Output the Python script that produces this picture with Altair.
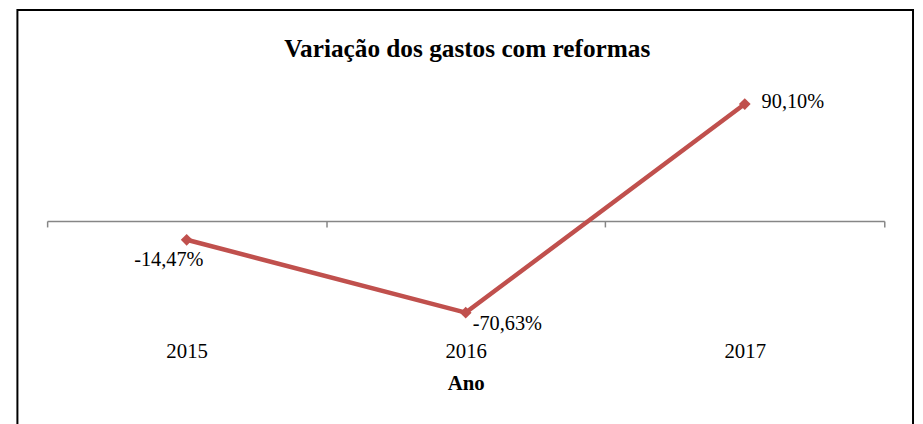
import altair as alt
import pandas as pd

anos = ["2015", "2016", "2017"]
variacao = [-14.47, -70.63, 90.10]
rotulos = ["-14,47%", "-70,63%", "90,10%"]
titulo = "Variação dos gastos com reformas"

df = pd.DataFrame({"ano": anos, "variacao": variacao, "rotulo": rotulos})

COR = "#C0504D"
FONTE = "Liberation Serif"

x_enc = alt.X(
    "ano:O",
    sort=anos,
    scale=alt.Scale(paddingInner=0, paddingOuter=0),
    axis=alt.Axis(
        title="Ano",
        labelAngle=0,
        tickBand="extent",
        domainColor="#868686",
        tickColor="#868686",
        domainWidth=1.5,
        tickWidth=1.5,
        tickSize=6,
        offset=-131,
        labelPadding=115,
        labelFont=FONTE,
        labelFontSize=21,
        labelColor="#000000",
        titleFont=FONTE,
        titleFontSize=21,
        titleFontWeight="bold",
        titleColor="#000000",
        titlePadding=11,
        grid=False,
    ),
)
y_enc = alt.Y("variacao:Q", scale=alt.Scale(domain=[-100, 100], nice=False, zero=False), axis=None)

base = alt.Chart(df)

linha = base.mark_line(color=COR, strokeWidth=4.5).encode(x=x_enc, y=y_enc)
pontos = base.mark_point(shape="diamond", filled=True, size=140, color=COR, opacity=1).encode(x=x_enc, y=y_enc)

txt_style = dict(font=FONTE, fontSize=20.5, color="#000000", baseline="middle")
lab1 = base.transform_filter(alt.datum.ano == "2015").mark_text(align="center", dx=-18, dy=20, **txt_style).encode(
    x=x_enc, y=y_enc, text="rotulo:N")
lab2 = base.transform_filter(alt.datum.ano == "2016").mark_text(align="left", dx=7, dy=12, **txt_style).encode(
    x=x_enc, y=y_enc, text="rotulo:N")
lab3 = base.transform_filter(alt.datum.ano == "2017").mark_text(align="left", dx=17, dy=-2, **txt_style).encode(
    x=x_enc, y=y_enc, text="rotulo:N")

borda = alt.Chart(pd.DataFrame({"b": [0]})).mark_rect(
    filled=False, stroke="#000000", strokeWidth=2
).encode(
    x=alt.value(-30), x2=alt.value(874), y=alt.value(-82), y2=alt.value(420)
)

tit = alt.Chart(pd.DataFrame({"t": [titulo]})).mark_text(
    font=FONTE, fontSize=25.5, fontWeight="bold", color="#000000", align="center", baseline="middle"
).encode(
    x=alt.value(424), y=alt.value(-43), text="t:N"
)

chart = alt.layer(borda, tit, linha, pontos, lab1, lab2, lab3).properties(
    width=845,
    height=262,
    autosize=alt.AutoSizeParams(type="none"),
    padding={"left": 39.5, "top": 82, "right": 31, "bottom": 80},
).configure_view(stroke=None)

chart.save("out.html", embed_options={"renderer": "svg", "actions": False})
